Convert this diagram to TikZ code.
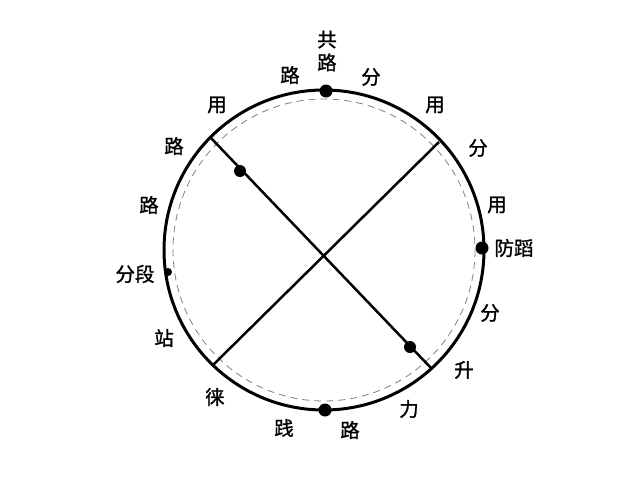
\documentclass[tikz,border=0pt]{standalone}
\usepackage{fontspec}
\newfontfamily\cjk[FakeBold=1.2]{Noto Sans CJK SC}
\begin{document}
\begin{tikzpicture}[x=1pt,y=-1pt,
  lbl/.style={font=\cjk\fontsize{19.5}{23}\selectfont, inner sep=0pt, align=center},
  ringline/.style={line width=3pt},
  chord/.style={line width=2.5pt},
  guide/.style={gray, line width=0.8pt, dash pattern=on 7pt off 5pt},
  bigdot/.style={circle, fill=black, inner sep=0pt, minimum size=13pt},
  smalldot/.style={circle, fill=black, inner sep=0pt, minimum size=8pt}]
\useasboundingbox (0,0) rectangle (640,480);
\fill[white] (0,0) rectangle (640,480);
\coordinate (c) at (324,250);
\draw[guide] (c) circle (151);
\draw[ringline] (c) circle (160);
\coordinate (a1) at (210,137);
\coordinate (a2) at (431,368);
\coordinate (b1) at (439,142);
\coordinate (b2) at (213,365);
\draw[chord] (a1) -- (a2);
\draw[chord] (b1) -- (b2);
\node[bigdot] (dtop) at (326,91) {};
\node[bigdot] (dright) at (482,248) {};
\node[bigdot] (dbot) at (325,410) {};
\node[bigdot, minimum size=12pt] (d1) at (240,171) {};
\node[bigdot, minimum size=12pt] (d2) at (410,347) {};
\node[smalldot] (dleft) at (168,272) {};
\node[lbl] (t1) at (327,51) {共\\路};
\node[lbl] (t2) at (290,75) {路};
\node[lbl] (t3) at (371,77) {分};
\node[lbl] (t4) at (217,105) {用};
\node[lbl] (t5) at (435,105) {用};
\node[lbl] (t6) at (174,146) {路};
\node[lbl] (t7) at (478,148) {分};
\node[lbl] (t8) at (149,205) {路};
\node[lbl] (t9) at (497,205) {用};
\node[lbl] (t10) at (514,248) {防蹈};
\node[lbl] (t11) at (135,274) {分段};
\node[lbl] (t12) at (490,313) {分};
\node[lbl] (t13) at (164,338) {站};
\node[lbl] (t14) at (464,370) {升};
\node[lbl] (t15) at (215,397) {徕};
\node[lbl] (t16) at (409,409) {力};
\node[lbl] (t17) at (284,428) {践};
\node[lbl] (t18) at (350,430) {路};
\end{tikzpicture}
\end{document}
